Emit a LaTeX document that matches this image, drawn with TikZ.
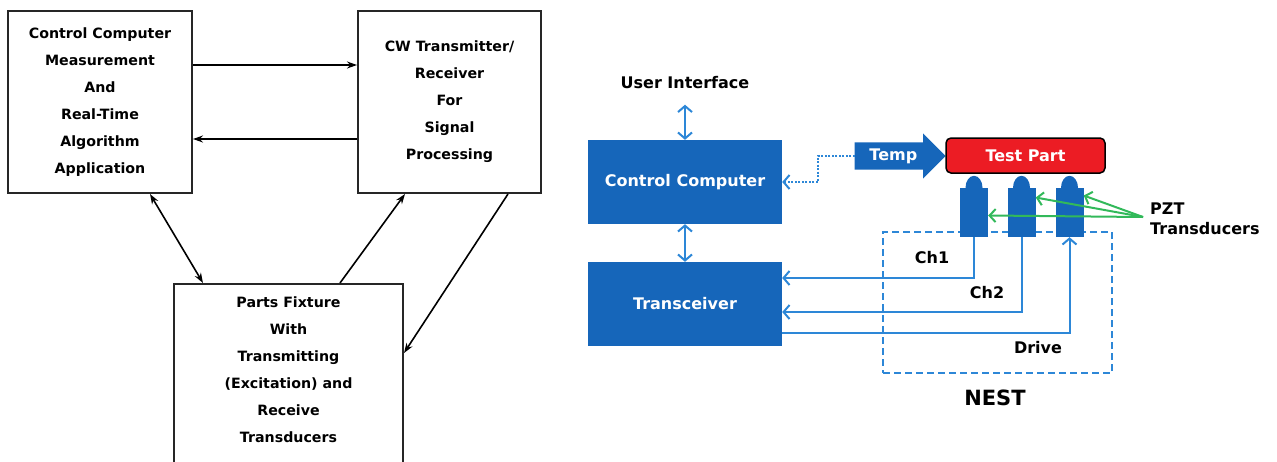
\documentclass[tikz,border=0pt]{standalone}
\usepackage{fontspec}
\setmainfont{DejaVu Sans}
\usetikzlibrary{arrows.meta,shapes.arrows}
\definecolor{boxblue}{RGB}{22,102,186}
\definecolor{lineblue}{RGB}{45,135,215}
\definecolor{pztgreen}{RGB}{50,185,90}
\definecolor{partred}{RGB}{236,28,36}
\tikzset{
  flowbox/.style={draw=black!85,line width=2pt,align=center,inner sep=0pt,
    font=\fontsize{14.2}{27}\selectfont\bfseries},
  flowarrow/.style={line width=1.6pt,-{Stealth[length=10pt,width=7pt]}},
  flowdouble/.style={line width=1.6pt,{Stealth[length=10pt,width=7pt]}-{Stealth[length=10pt,width=7pt]}},
  bluefont/.style={font=\fontsize{16}{20}\selectfont\bfseries},
  bluebox/.style={bluefont,fill=boxblue,text=white,minimum width=194,minimum height=84,inner sep=0pt},
  bluewire/.style={draw=lineblue,line width=2pt,-{Straight Barb[length=6pt,width=14pt]}},
  bluedouble/.style={draw=lineblue,line width=2pt,{Straight Barb[length=6pt,width=14pt]}-{Straight Barb[length=6pt,width=14pt]}},
  pzt/.style={fill=boxblue,minimum width=28,minimum height=49,inner sep=0pt},
  greenarrow/.style={draw=pztgreen,line width=2pt,-{Straight Barb[length=6pt,width=13pt]}},
}
\begin{document}
\begin{tikzpicture}[x=1pt,y=-1pt]
\useasboundingbox (0,0) rectangle (1277,461);
\node[flowbox,minimum width=184,minimum height=182] (ccm) at (100,102) {Control Computer\\Measurement\\And\\Real-Time\\Algorithm\\Application};
\node[flowbox,minimum width=183,minimum height=182] (cw) at (449.5,102) {CW Transmitter/\\Receiver\\For\\Signal\\Processing};
\node[flowbox,minimum width=229,minimum height=200,anchor=north] (fix) at (288.5,283) {};
\node[flowbox,draw=none] (fixtext) at (288.5,369.5) {Parts Fixture\\With\\Transmitting\\(Excitation) and\\Receive\\Transducers};
\draw[flowarrow] ([yshift=37pt]ccm.east) -- ([yshift=37pt]cw.west);
\draw[flowarrow] ([yshift=-37pt]cw.west) -- ([yshift=-37pt]ccm.east);
\draw[flowdouble] ([xshift=50pt]ccm.south) -- ([xshift=-85.5pt]fix.north);
\draw[flowarrow] ([xshift=51.5pt]fix.north) -- ([xshift=-44.5pt]cw.south);
\draw[flowarrow] ([xshift=58.5pt]cw.south) -- ([yshift=31pt]fix.east);

\node[bluefont] (ui) at (685,83) {User Interface};
\node[bluebox] (cc) at (685,182) {Control Computer};
\node[bluebox] (tr) at (685,304) {Transceiver};
\draw[bluedouble,shorten <=12pt] (ui.south) -- (cc.north);
\draw[bluedouble] (cc.south) -- (tr.north);

\node[draw=lineblue,dash pattern=on 7pt off 4pt,line width=1.8pt,minimum width=229,minimum height=141,inner sep=0pt] (nest) at (997.5,302.5) {};
\node[font=\fontsize{21}{24}\selectfont\bfseries] (nestlabel) at (995,398) {NEST};

\node[single arrow,fill=boxblue,text=white,bluefont,single arrow head extend=9pt,single arrow head indent=0pt,minimum height=91,inner xsep=4pt,inner ysep=6pt,anchor=tip] (temp) at (946,156) {Temp};
\node[draw=black,line width=1.5pt,fill=partred,rounded corners=5pt,text=white,bluefont,minimum width=159,minimum height=35,inner sep=0pt] (part) at (1025.5,155.5) {Test Part};
\draw[draw=lineblue,line width=2pt,dash pattern=on 2pt off 1.5pt,-{Straight Barb[length=6pt,width=14pt]}] (temp.tail) -- ++(-37,0) |- (cc.east);

\foreach \n/\x in {1/974,2/1021.5,3/1069.5} {
  \node[pzt] (t\n) at (\x,212.5) {};
  \fill[boxblue] ([xshift=-8.5pt]t\n.north) arc[start angle=180,end angle=360,x radius=8.5,y radius=12];
}
\draw[bluewire] (t1.south) |- ([yshift=26pt]tr.east);
\draw[bluewire] (t2.south) |- ([yshift=-8pt]tr.east);
\draw[bluewire] ([yshift=-29pt]tr.east) -| (t3.south);
\node[bluefont] (ch1) at (932,258) {Ch1};
\node[bluefont] (ch2) at (987,293) {Ch2};
\node[bluefont] (drive) at (1038,348) {Drive};

\coordinate (pztsrc) at (1143,217);
\draw[greenarrow] (pztsrc) -- ([yshift=-3pt]t1.east);
\draw[greenarrow] (pztsrc) -- ([yshift=15pt]t2.east);
\draw[greenarrow] (pztsrc) -- ([yshift=17pt]t3.east);
\node[bluefont,anchor=west,align=left,inner sep=0pt] (pztlabel) at (1150,219) {PZT\\Transducers};
\end{tikzpicture}
\end{document}
